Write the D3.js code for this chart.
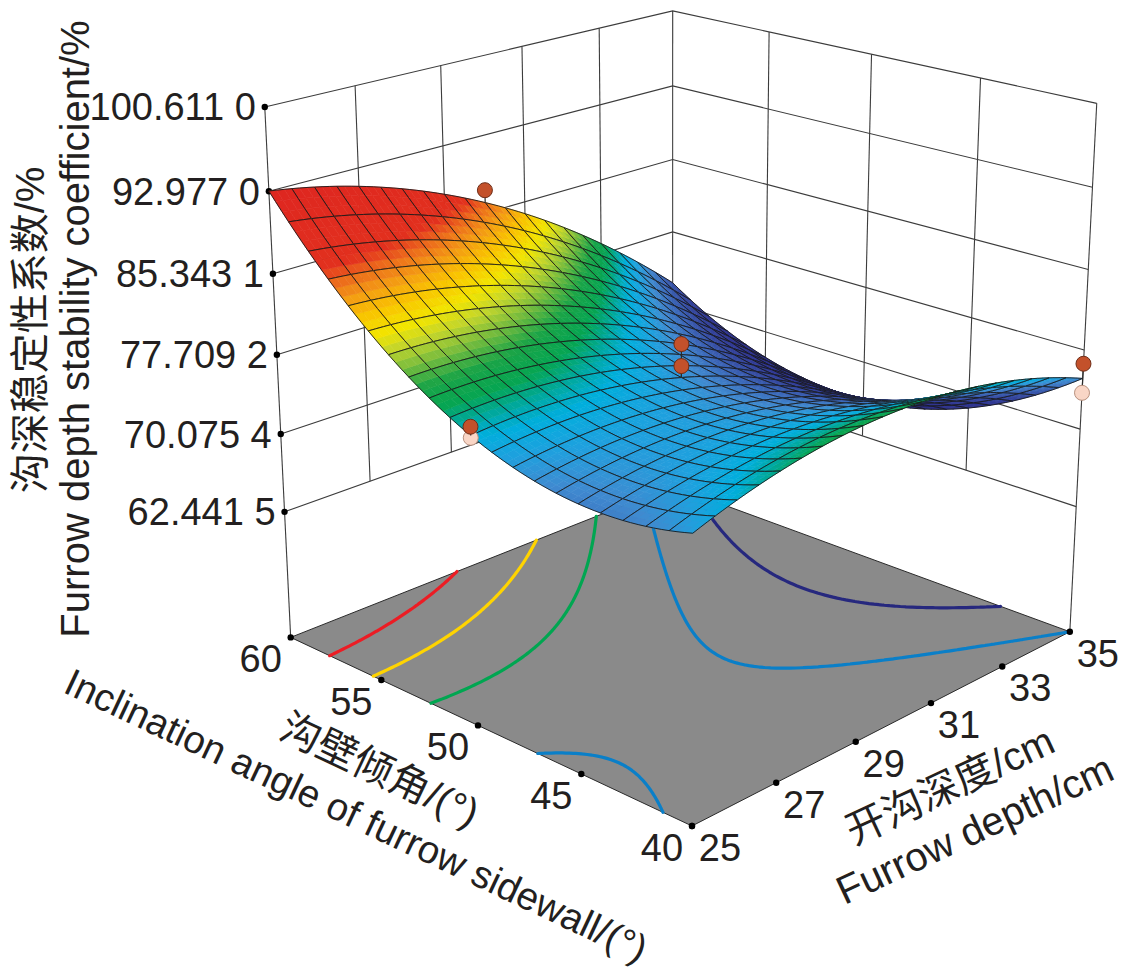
<!DOCTYPE html>
<html>
<head>
<meta charset="utf-8">
<script src="https://cdn.jsdelivr.net/npm/d3@7"></script>
<style>
  body { margin: 0; background: #fff; }
  svg { display: block; }
  text { font-family: "Liberation Sans", Arial, "Noto Sans CJK SC", sans-serif; fill: #231f20; }
</style>
</head>
<body>
<svg width="1134" height="973"></svg>
<script>
const width = 1134, height = 973;

// axis ranges and ticks
const angleDomain = [40, 60];
const depthDomain = [25, 35];
const zDomain = [49.8, 100.611];          // floor level .. top of the box
const angleTicks = [40, 45, 50, 55, 60];
const depthTicks = [25, 27, 29, 31, 33, 35];
const zTicks = [62.4415, 70.0754, 77.7092, 85.3431, 92.977, 100.611];
const zTickLabels = ["62.441 5", "70.075 4", "77.709 2", "85.343 1", "92.977 0", "100.611 0"];

// fitted quadratic, coded units A=(angle-50)/10, B=(depth-30)/5
// terms: intercept, A, B, AB, A^2, B^2
const modelCoef = [75.3, 3.65, -5.35, -5.01, 7.43, -3.75];

// design points shown on the plot
const pointAngle = [60, 50, 50, 50, 50, 40, 40];
const pointDepth = [30, 25, 25, 30, 30, 35, 35];
const pointValue = [87.6, 77.7, 76.7, 78.5, 76.4, 76.4, 73.6];

// contour lines on the floor
const contourLevels = [70.6, 75.0, 79.4, 83.8, 88.2];
const contourColors = ["#26287e", "#0a7fc8", "#00a651", "#ffd400", "#ec1c24"];

// surface colour ramp
const colorStops = [66, 70, 72, 73.5, 74.8, 75.8, 76.8, 77.6, 78.4, 79.5, 80.7, 81.7, 82.7, 84, 85.2, 86.3, 87.3, 93];
const colorValues = ["#2a2a7e", "#2e3490", "#34489f", "#3a66b8", "#3f8ad0", "#1fa0de", "#00aedd", "#00a89a", "#06a552",
                     "#1aa447", "#7cbd3c", "#c2d52c", "#f2e500", "#f9c300", "#f39a14", "#ec6a1c", "#e2301e", "#de2620"];

const svg = d3.select("svg");
const line = d3.line();

// camera
const focal = 2898, cx = 672, cy = 351;
const elev = 19.7 * Math.PI / 180, azim = 43.9 * Math.PI / 180;
const origin = [0.0069, -0.1639, 1];     // front floor corner in camera space
const axisDir = th => [Math.sin(th), Math.cos(th) * Math.sin(elev), Math.cos(th) * Math.cos(elev)];
const dirV = axisDir(azim), dirU = axisDir(azim - Math.PI / 2), dirW = [0, Math.cos(elev), -Math.sin(elev)];

const uScale = d3.scaleLinear().domain(angleDomain).range([0, 0.2182]);
const vScale = d3.scaleLinear().domain(depthDomain).range([0, 0.2172]);
const wScale = d3.scaleLinear().domain(zDomain).range([0, 0.2156]);
const colorScale = d3.scaleLinear().domain(colorStops).range(colorValues).clamp(true);

function project(a, d, z) {
    const u = uScale(a), v = vScale(d), w = wScale(z);
    const p = [0, 1, 2].map(k => origin[k] + u * dirU[k] + v * dirV[k] + w * dirW[k]);
    return [cx + focal * p[0] / p[2], cy - focal * p[1] / p[2], p[2]];
}

function model(a, d) {
    const A = (a - 50) / 10, B = (d - 30) / 5;
    const [b0, b1, b2, b12, b11, b22] = modelCoef;
    return b0 + b1 * A + b2 * B + b12 * A * B + b11 * A * A + b22 * B * B;
}

const zFloor = zDomain[0], zTop = zDomain[1];
const [aLo, aHi] = angleDomain, [dLo, dHi] = depthDomain;

// back walls
const walls = svg.append("g").attr("fill", "none").attr("stroke", "#3c3c3c").attr("stroke-width", 1.1);
zTicks.forEach(z => {
    walls.append("path").attr("d", line([project(aHi, dLo, z), project(aHi, dHi, z), project(aLo, dHi, z)]));
});
depthTicks.slice(1, -1).forEach(d => {
    walls.append("path").attr("d", line([project(aHi, d, zTicks[0]), project(aHi, d, zTop)]));
});
angleTicks.slice(1, -1).forEach(a => {
    walls.append("path").attr("d", line([project(a, dHi, zTicks[0]), project(a, dHi, zTop)]));
});
[[aHi, dLo], [aHi, dHi], [aLo, dHi]].forEach(([a, d]) => {
    walls.append("path").attr("d", line([project(a, d, zFloor), project(a, d, zTop)]));
});

// floor
const floorPts = [[aLo, dLo], [aHi, dLo], [aHi, dHi], [aLo, dHi]].map(([a, d]) => project(a, d, zFloor));
svg.append("path").attr("d", line(floorPts) + "Z")
    .attr("fill", "#8a8a8a").attr("stroke", "#2a2a2a").attr("stroke-width", 1);

// floor contours (marching squares)
function isoSegments(level, n) {
    const aAt = i => aLo + (aHi - aLo) * i / n;
    const dAt = j => dLo + (dHi - dLo) * j / n;
    const val = d3.range(n + 1).map(i => d3.range(n + 1).map(j => model(aAt(i), dAt(j)) - level));
    const segs = [];
    for (let i = 0; i < n; i++) {
        for (let j = 0; j < n; j++) {
            const c = [[i, j], [i + 1, j], [i + 1, j + 1], [i, j + 1]];
            const pts = [];
            for (let k = 0; k < 4; k++) {
                const [i0, j0] = c[k], [i1, j1] = c[(k + 1) % 4];
                const v0 = val[i0][j0], v1 = val[i1][j1];
                if ((v0 < 0) !== (v1 < 0)) {
                    const t = v0 / (v0 - v1);
                    pts.push([aAt(i0 + t * (i1 - i0)), dAt(j0 + t * (j1 - j0))]);
                }
            }
            if (pts.length >= 2) segs.push([pts[0], pts[1]]);
            if (pts.length === 4) segs.push([pts[2], pts[3]]);
        }
    }
    return segs;
}

const contourG = svg.append("g").attr("fill", "none").attr("stroke-width", 3.2).attr("stroke-linecap", "round");
contourLevels.forEach((lv, i) => {
    const d = isoSegments(lv, 120).map(s => {
        const p = project(s[0][0], s[0][1], zFloor), q = project(s[1][0], s[1][1], zFloor);
        return `M${p[0]},${p[1]}L${q[0]},${q[1]}`;
    }).join("");
    contourG.append("path").attr("d", d).attr("stroke", contourColors[i]);
});

// ticks and tick labels
const tickG = svg.append("g");
zTicks.forEach((z, i) => {
    const p = project(aHi, dLo, z);
    tickG.append("circle").attr("cx", p[0]).attr("cy", p[1]).attr("r", 3.2);
    tickG.append("text").attr("x", p[0] - 9).attr("y", p[1] + 13.5)
        .attr("text-anchor", "end").style("font-size", "38px").text(zTickLabels[i]);
});
angleTicks.forEach(a => {
    const p = project(a, dLo, zFloor);
    tickG.append("circle").attr("cx", p[0]).attr("cy", p[1]).attr("r", 3.2);
    tickG.append("text").attr("x", p[0] - 30).attr("y", p[1] + 35)
        .attr("text-anchor", "middle").style("font-size", "38px").text(a);
});
depthTicks.forEach(d => {
    const p = project(aLo, d, zFloor);
    tickG.append("circle").attr("cx", p[0]).attr("cy", p[1]).attr("r", 3.2);
    tickG.append("text").attr("x", p[0] + 28).attr("y", p[1] + 35)
        .attr("text-anchor", "middle").style("font-size", "38px").text(d);
});

// surface: painter's order, mesh cells split into finer colour facets
const nMesh = 20, nSub = 3, nFine = nMesh * nSub;
const fine = d3.range(nFine + 1).map(i => d3.range(nFine + 1).map(j => {
    const a = aLo + (aHi - aLo) * i / nFine, d = dLo + (dHi - dLo) * j / nFine;
    const z = model(a, d);
    return { z, p: project(a, d, z) };
}));
const pt = c => `${c.p[0].toFixed(2)},${c.p[1].toFixed(2)}`;

const cells = [];
for (let ci = 0; ci < nMesh; ci++) {
    for (let cj = 0; cj < nMesh; cj++) {
        const i0 = ci * nSub, j0 = cj * nSub, i1 = i0 + nSub, j1 = j0 + nSub;
        const depth = (fine[i0][j0].p[2] + fine[i1][j0].p[2] + fine[i1][j1].p[2] + fine[i0][j1].p[2]) / 4;
        cells.push({ i0, j0, i1, j1, depth });
    }
}
cells.sort((x, y) => y.depth - x.depth);

const surfG = svg.append("g");
cells.forEach(c => {
    const g = surfG.append("g");
    for (let i = c.i0; i < c.i1; i++) {
        for (let j = c.j0; j < c.j1; j++) {
            const q = [fine[i][j], fine[i + 1][j], fine[i + 1][j + 1], fine[i][j + 1]];
            const col = colorScale(d3.mean(q, e => e.z));
            g.append("path").attr("d", "M" + q.map(pt).join("L") + "Z")
                .attr("fill", col).attr("stroke", col).attr("stroke-width", 0.6);
        }
    }
    const ring = [];
    for (let i = c.i0; i <= c.i1; i++) ring.push(fine[i][c.j0]);
    for (let j = c.j0 + 1; j <= c.j1; j++) ring.push(fine[c.i1][j]);
    for (let i = c.i1 - 1; i >= c.i0; i--) ring.push(fine[i][c.j1]);
    for (let j = c.j1 - 1; j > c.j0; j--) ring.push(fine[c.i0][j]);
    g.append("path").attr("d", "M" + ring.map(pt).join("L") + "Z")
        .attr("fill", "none").attr("stroke", "#1a1a1a").attr("stroke-width", 0.9);
});

// design points: below-surface ones first, then above
const pts = pointValue.map((v, i) => ({ a: pointAngle[i], d: pointDepth[i], v, above: v >= model(pointAngle[i], pointDepth[i]) }));
const ptG = svg.append("g");
pts.sort((x, y) => (x.above === y.above ? 0 : x.above ? 1 : -1)).forEach(o => {
    const s = project(o.a, o.d, model(o.a, o.d)), p = project(o.a, o.d, o.v);
    ptG.append("path").attr("d", line([s, p])).attr("stroke", "#2a2a2a").attr("stroke-width", 1.2);
    ptG.append("circle").attr("cx", p[0]).attr("cy", p[1]).attr("r", 7.5)
        .attr("fill", o.above ? "#c3512b" : "#f9d6c6")
        .attr("stroke", o.above ? "#6e2d17" : "#b8917f").attr("stroke-width", 1);
});

// axis titles
const titleG = svg.append("g").style("font-size", "40px");
function edgeTitle(anchor, angleDeg, along, perp, label, size) {
    const r = angleDeg * Math.PI / 180;
    const dir = [Math.cos(r), Math.sin(r)], nor = [-Math.sin(r), Math.cos(r)];
    const x = anchor[0] + along * dir[0] + perp * nor[0], y = anchor[1] + along * dir[1] + perp * nor[1];
    titleG.append("text").attr("transform", `translate(${x},${y}) rotate(${angleDeg})`)
        .attr("text-anchor", "middle").attr("dominant-baseline", "central")
        .style("font-size", size + "px").text(label);
}
const fL = project(aLo, dLo, zFloor), lL = project(aHi, dLo, zFloor);
const leftAngle = Math.atan2(fL[1] - lL[1], fL[0] - lL[0]) * 180 / Math.PI;
const leftMid = project(50, dLo, zFloor);
edgeTitle(leftMid, leftAngle, -70, 82, "沟壁倾角/(°)", 40);
edgeTitle(leftMid, leftAngle, -72, 133, "Inclination angle of furrow sidewall/(°)", 38.5);

const rightMid = project(aLo, 30, zFloor);
edgeTitle(rightMid, -25, 24, 81, "开沟深度/cm", 40);
edgeTitle(rightMid, -25, 28, 131, "Furrow depth/cm", 40);

titleG.append("text").attr("transform", "translate(44,330) rotate(-90)")
    .attr("text-anchor", "middle").text("沟深稳定性系数/%");
titleG.append("text").attr("transform", "translate(89,329) rotate(-90)")
    .attr("text-anchor", "middle").text("Furrow depth stability coefficient/%");
</script>
</body>
</html>
